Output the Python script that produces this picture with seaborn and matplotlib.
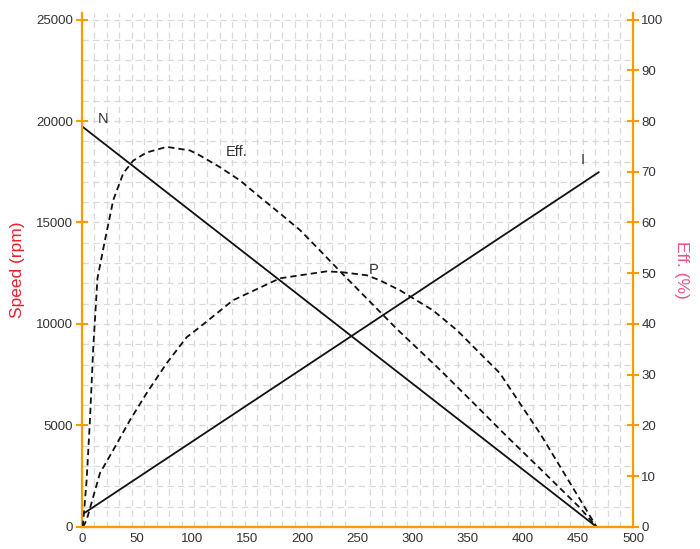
import numpy as np
import pandas as pd
import matplotlib
matplotlib.use("Agg")
import matplotlib.pyplot as plt
import seaborn as sns
from matplotlib.ticker import MultipleLocator

sns.set_theme(style="white")
plt.rcParams['font.family'] = ['Liberation Sans', 'DejaVu Sans']

# ==================================================
# DATOS
# ==================================================
# N: velocidad (rpm), recta
speed_x = [0, 467]
speed_n = [19750, 0]

# I: corriente, recta (escala izquierda)
current_x = [0, 469]
current_i = [600, 17480]

# Eff.: rendimiento (%), eje derecho
eff_x = [1, 4.5, 7.5, 10.5, 14.3, 21.1, 28.6, 37.7, 46.8, 58.9, 77.1, 98.2,
         107.3, 125.4, 143.5, 161.7, 179.8, 198.0, 213.3, 236.9, 285.9,
         324.8, 353.6, 385.8, 415.7, 451.8, 467]
eff_v = [0, 9.3, 21.1, 35.4, 49.0, 56.5, 64.4, 69.7, 72.2, 73.8, 74.9, 74.2,
         73.2, 70.9, 68.3, 65.0, 61.8, 58.5, 55.1, 49.8, 39.0,
         31.0, 24.8, 17.8, 11.5, 3.8, 0]

# P: potencia (escala izquierda)
pow_x = [1.2, 4.5, 16.6, 28.6, 43.8, 58.9, 77.1, 95.2, 107.3, 137.2, 179.8,
         222.4, 236.9, 258.7, 270.4, 288.6, 318.5, 340.2, 379.2, 415.5, 467]
pow_v = [0, 344, 2657, 3788, 5264, 6593, 8069, 9348, 9855, 11168, 12251,
         12595, 12546, 12398, 12152, 11660, 10676, 9700, 7577, 4625, 0]

x_ticks = list(range(0, 501, 50))
left_ticks = list(range(0, 25001, 5000))
right_ticks = list(range(0, 101, 10))

ORANGE = "#ff9a00"
GRID = "#d9d9d9"
TXT = "#333333"

# ==================================================
# FIGURA
# ==================================================
fig = plt.figure(figsize=(7.0, 5.49), dpi=100)
ax = fig.add_axes([0.1167, 0.0401, 0.7876, 0.9362])
ax2 = ax.twinx()

ax.set_xlim(0, 500)
ax.set_ylim(0, 25320)
ax2.set_ylim(0, 101.28)

# Rejilla discontinua (solo menor en x para no duplicar líneas)
ax.xaxis.set_minor_locator(MultipleLocator(500 / 44))
ax.yaxis.set_minor_locator(MultipleLocator(1000))
grid_kw = dict(color=GRID, linestyle=(0, (5, 3.5)), linewidth=0.9)
ax.grid(which="minor", axis="x", **grid_kw)
ax.grid(which="both", axis="y", **grid_kw)
ax.grid(which="major", axis="x", visible=False)
ax.set_axisbelow(True)

# Curvas
line_kw = dict(color="#111111", estimator=None, sort=False, legend=False)
sns.lineplot(x=speed_x, y=speed_n, ax=ax, linewidth=1.3, **line_kw)
sns.lineplot(x=current_x, y=current_i, ax=ax, linewidth=1.3, **line_kw)
sns.lineplot(x=pow_x, y=pow_v, ax=ax, linewidth=1.3, linestyle=(0, (3.5, 2.2)), **line_kw)
sns.lineplot(x=eff_x, y=eff_v, ax=ax2, linewidth=1.3, linestyle=(0, (3.5, 2.2)), **line_kw)

# Etiquetas de curvas
ax.text(19.6, 20110, "N", fontsize=10.5, color=TXT, ha="center", va="center")
ax.text(140.5, 18466, "Eff.", fontsize=10.5, color=TXT, ha="center", va="center")
ax.text(454, 18056, "I", fontsize=10.5, color=TXT, ha="center", va="center")
ax.text(264.4, 12644, "P", fontsize=10.5, color=TXT, ha="center", va="center")

# Ejes y ticks
ax.set_xticks(x_ticks)
ax.set_yticks(left_ticks)
ax2.set_yticks(right_ticks)
ax.tick_params(axis="x", which="both", length=0, pad=4, labelsize=9.5, labelcolor=TXT)
ax.tick_params(axis="y", which="major", direction="inout", length=8, width=1.5,
               color=ORANGE, labelsize=9.5, labelcolor=TXT, pad=2)
ax.tick_params(axis="y", which="minor", length=0)
ax2.tick_params(axis="y", which="major", direction="inout", length=8, width=1.5,
                color=ORANGE, labelsize=9.5, labelcolor=TXT, pad=2)

for a in (ax, ax2):
    for side in ("left", "right", "bottom"):
        a.spines[side].set_color(ORANGE)
        a.spines[side].set_linewidth(1.6)
    a.spines["top"].set_visible(False)
ax.spines["right"].set_visible(False)
ax2.spines["left"].set_visible(False)

ax.set_ylabel("Speed (rpm)", color="#e8202a", fontsize=12.5, labelpad=8)
ax2.set_ylabel("Eff. (%)", color="#e85590", fontsize=12.5, rotation=-90, labelpad=18)

fig.savefig("out.png", dpi=100, facecolor="white")
